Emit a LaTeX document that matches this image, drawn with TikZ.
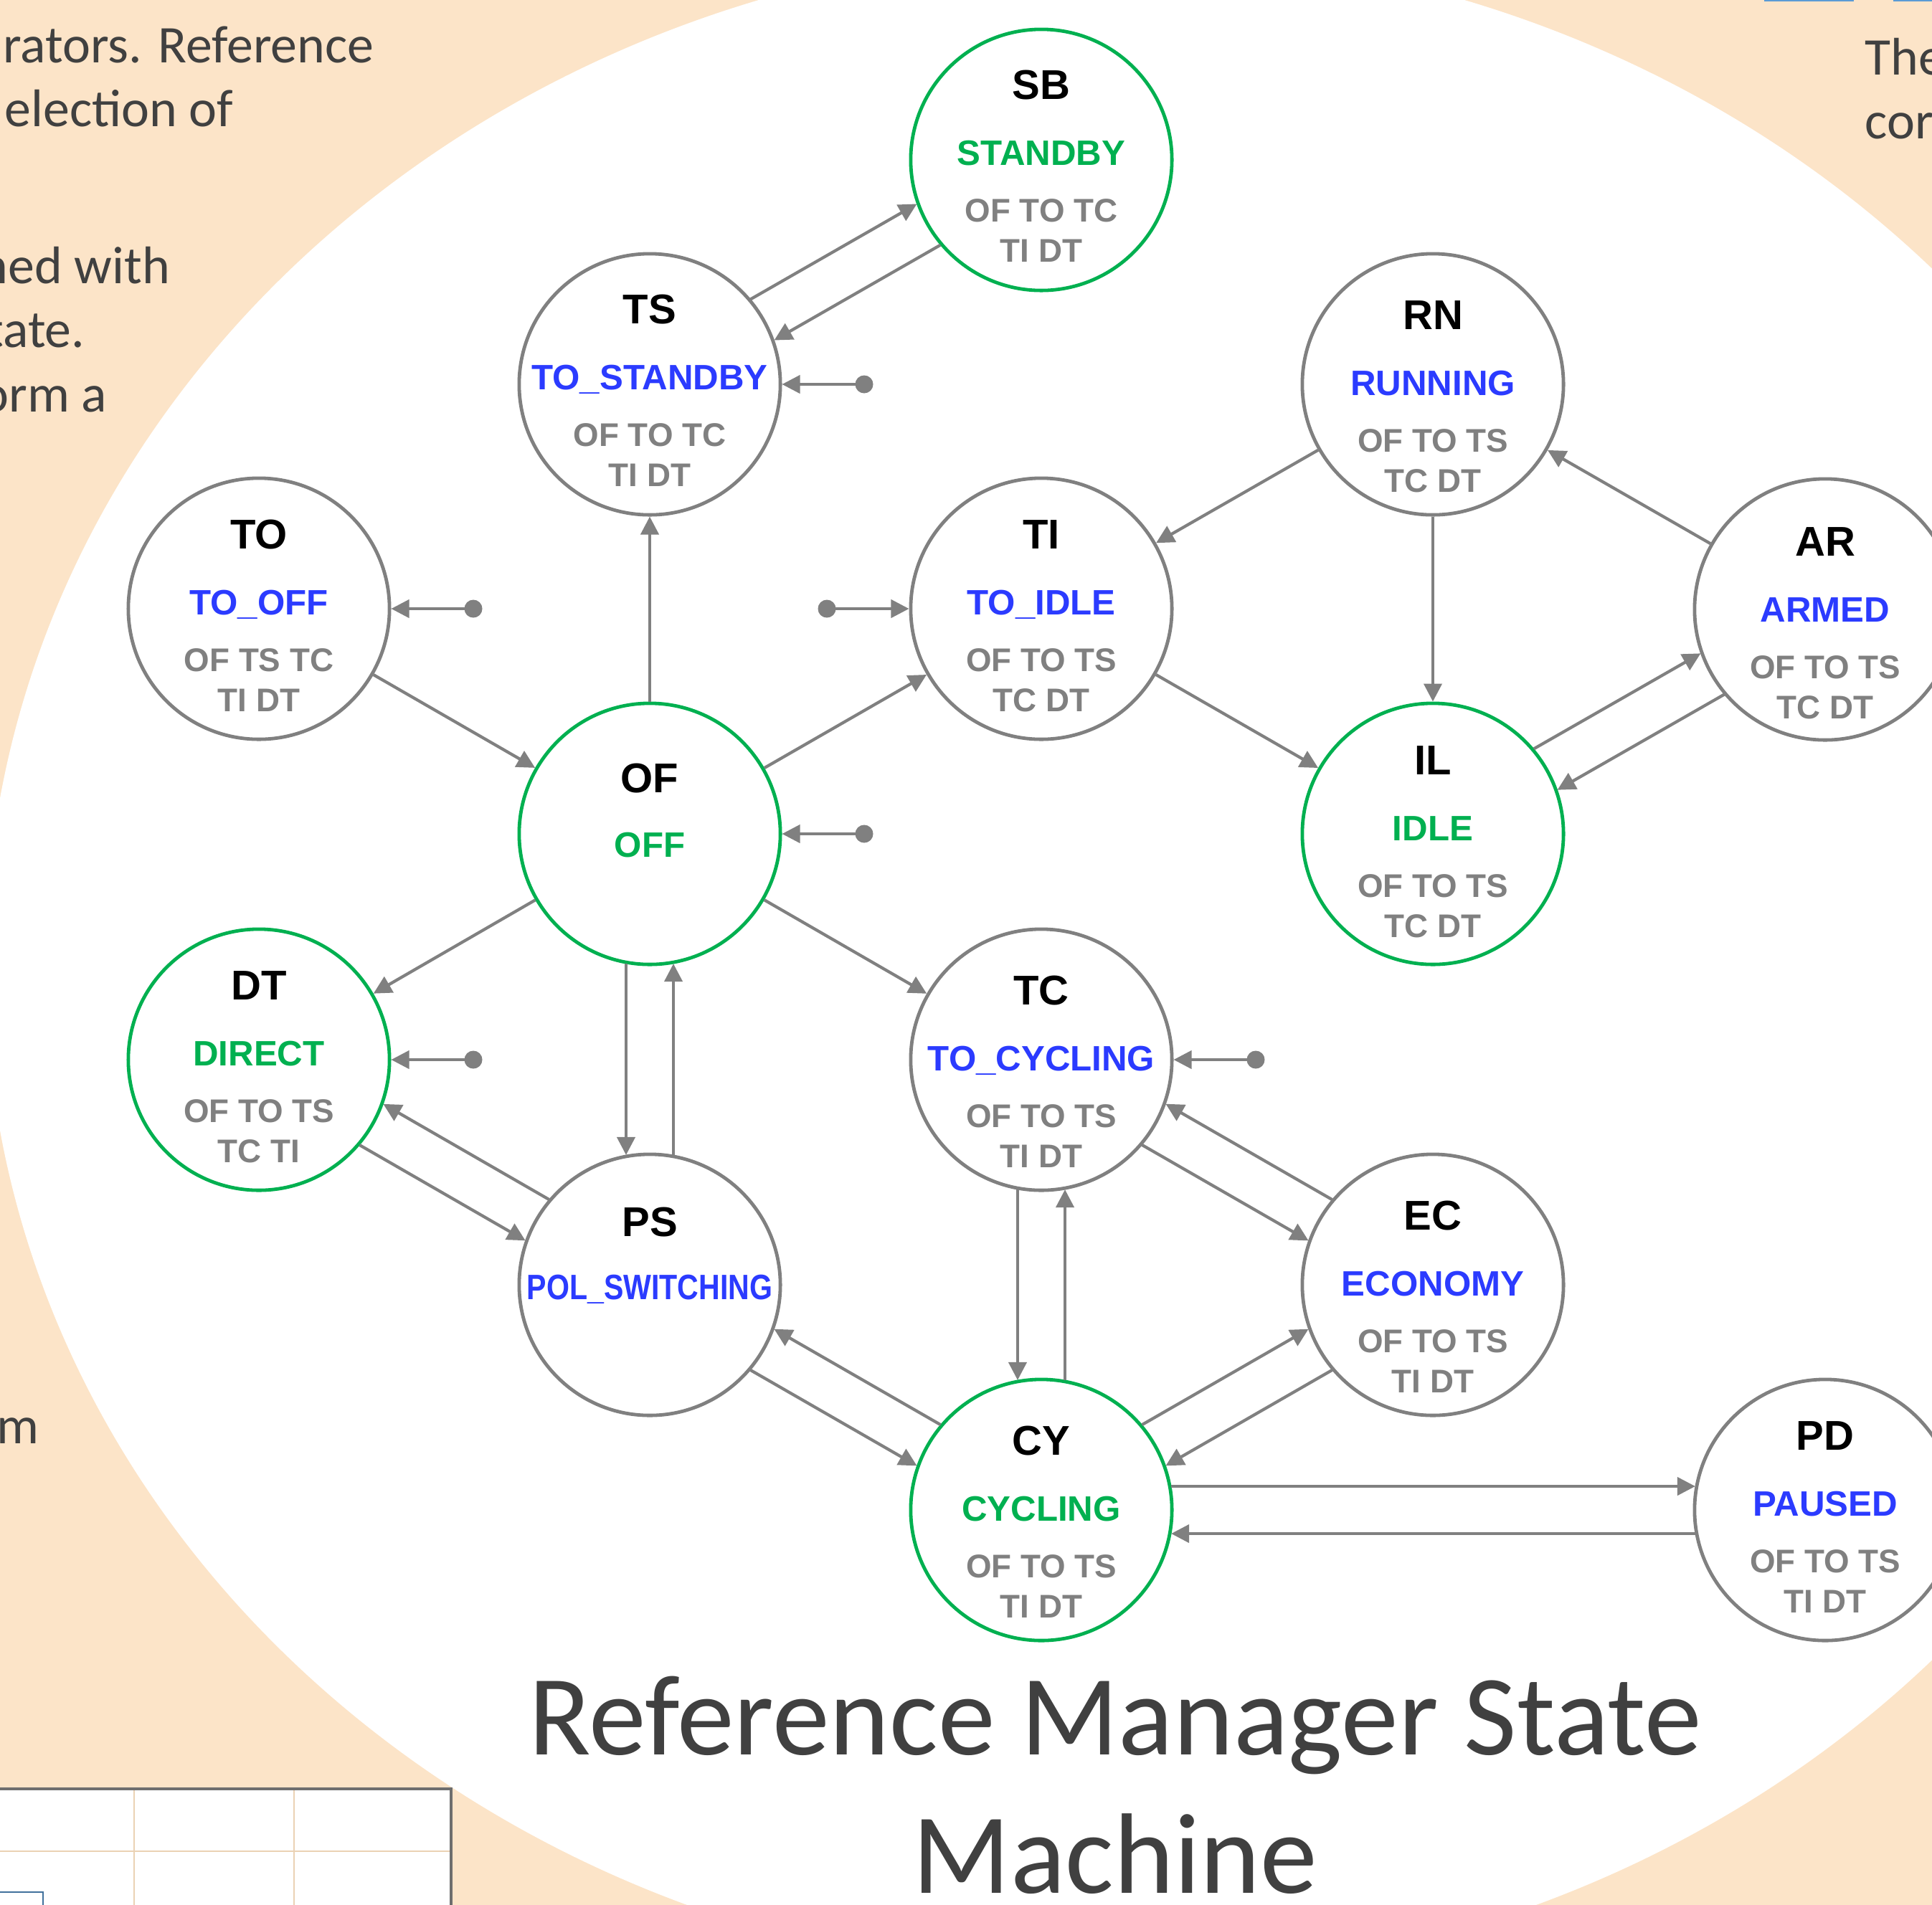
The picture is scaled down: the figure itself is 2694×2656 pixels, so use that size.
\documentclass[tikz,border=0pt]{standalone}
\usepackage{fontspec}
\setmainfont{Carlito}
\newfontfamily\nodefont{Liberation Sans}
\usetikzlibrary{arrows.meta,calc}
\definecolor{peach}{HTML}{FCE4C8}
\definecolor{txtgray}{HTML}{404040}
\definecolor{stgray}{HTML}{808080}
\definecolor{stgreen}{HTML}{00B050}
\definecolor{stblue}{HTML}{2B3BFF}
\definecolor{gridtan}{HTML}{EBD2B4}
\definecolor{tblborder}{HTML}{6E6E6E}
\definecolor{btnblue}{HTML}{5B9BD5}
\definecolor{boxblue}{HTML}{41719C}
\tikzset{
  state/.style={circle, draw=stgray, line width=0.048cm, fill=white, minimum size=3.64cm, inner sep=0pt},
  ringg/.style={draw=stgreen},
  ringb/.style={draw=stgray},
  lblg/.style={text=stgreen},
  lblb/.style={text=stblue},
  codetxt/.style={anchor=base, inner sep=0pt, text=black, font=\nodefont\bfseries\fontsize{16.5}{18}\selectfont},
  nametxt/.style={anchor=base, inner sep=0pt, font=\nodefont\bfseries\fontsize{14}{16}\selectfont},
  flagtxt/.style={anchor=base, inner sep=0pt, text=stgray, font=\nodefont\bfseries\fontsize{13}{15}\selectfont},
  arr/.style={draw=stgray, line width=0.042cm, -{Triangle[length=0.25cm,width=0.25cm]}},
  initdot/.style={circle, fill=stgray, minimum size=0.25cm, inner sep=0pt},
  sidetxt/.style={anchor=base east, inner sep=0pt, text=txtgray, font=\fontsize{21}{25}\selectfont},
  sidetxtl/.style={anchor=base west, inner sep=0pt, text=txtgray, font=\fontsize{21}{25}\selectfont},
  titletxt/.style={anchor=base, inner sep=0pt, text=txtgray, font=\fontsize{45.4}{50}\selectfont},
}
% #1 name, #2 x, #3 y, #4 shift, #5 kind g/b, #6 code, #7 label, #8 flags1, #9 flags2
\newcommand\mkstate[9]{%
  \node[state, ring#5] (#1) at (#2,#3) {};
  \node[codetxt] (#1-c) at ({#2},{#3+(#4)-80}) {#6};
  \node[nametxt, lbl#5] (#1-n) at ({#2},{#3+(#4)+12}) {#7};
  \node[flagtxt] (#1-f) at ({#2},{#3+(#4)+91}) {#8};
  \node[flagtxt] (#1-g) at ({#2},{#3+(#4)+147}) {#9};
}
% paired edge: #1 -> #2, side angles #3 (at start) and #4 (at end)
\newcommand\pe[4]{%
  \draw[arr] ($(#1)!1.81cm!(#2)!0.33cm!#3:(#2)$) -- ($(#2)!1.81cm!(#1)!0.33cm!#4:(#1)$);
}
\begin{document}
\begin{tikzpicture}[x=0.01cm, y=-0.01cm]
\useasboundingbox (0,0) rectangle (2694,2656);
\clip (0,0) rectangle (2694,2656);
\fill[peach] (-10,-10) rectangle (2704,2666);
\fill[white] (1550,1345) ellipse [x radius=15.7cm, y radius=14.15cm];

% side texts
\node[sidetxt] (s1) at (522,87) {rators. Reference};
\node[sidetxt] (s2) at (326,176) {election of};
\node[sidetxt] (s3) at (238,395) {ned with};
\node[sidetxt] (s4) at (119,484) {tate.};
\node[sidetxt] (s5) at (150,574) {orm a};
\node[sidetxt] (s6) at (55,2013) {m};
\node[sidetxtl] (s7) at (2600,104) {The};
\node[sidetxtl] (s8) at (2600,193) {cor};

% top-right button edges
\fill[btnblue] (2460,-10) rectangle (2585,2);
\fill[btnblue] (2640,-10) rectangle (2704,2);

% table bottom-left
\fill[white] (-10,2495) rectangle (629,2670);
\draw[gridtan, line width=0.02cm] (187,2497) -- (187,2670);
\draw[gridtan, line width=0.02cm] (410,2497) -- (410,2670);
\draw[gridtan, line width=0.02cm] (-10,2582) -- (627,2582);
\draw[tblborder, line width=0.04cm] (-10,2495) -- (629,2495) -- (629,2670);
\draw[boxblue, fill=white, line width=0.02cm] (-10,2639) rectangle (60,2670);

% states
\mkstate{sb}{1452}{223}{-5}{g}{SB}{STANDBY}{OF TO TC}{TI DT}
\mkstate{ts}{906}{536}{-5}{b}{TS}{TO\_STANDBY}{OF TO TC}{TI DT}
\mkstate{rn}{1998}{536}{3}{b}{RN}{RUNNING}{OF TO TS}{TC DT}
\mkstate{to}{361}{849}{-4}{b}{TO}{TO\_OFF}{OF TS TC}{TI DT}
\mkstate{ti}{1452}{849}{-4}{b}{TI}{TO\_IDLE}{OF TO TS}{TC DT}
\mkstate{ar}{2545}{850}{5}{b}{AR}{ARMED}{OF TO TS}{TC DT}
\mkstate{il}{1998}{1163}{-3}{g}{IL}{IDLE}{OF TO TS}{TC DT}
\mkstate{dt}{361}{1478}{-4}{g}{DT}{DIRECT}{OF TO TS}{TC TI}
\mkstate{tc}{1452}{1478}{3}{b}{TC}{TO\_CYCLING}{OF TO TS}{TI DT}
\mkstate{ec}{1998}{1792}{3}{b}{EC}{ECONOMY}{OF TO TS}{TI DT}
\mkstate{cy}{1452}{2106}{3}{g}{CY}{CYCLING}{OF TO TS}{TI DT}
\mkstate{pd}{2545}{2106}{-4}{b}{PD}{PAUSED}{OF TO TS}{TI DT}

\node[state, ringg] (of) at (906,1163) {};
\node[codetxt] (of-c) at (906,1105) {OF};
\node[nametxt, lblg] (of-n) at (906,1195) {OFF};
\node[state, ringb] (ps) at (906,1792) {};
\node[codetxt] (ps-c) at (906,1724) {PS};
\node[nametxt, lblb, xscale=0.835] (ps-n) at (906,1812) {POL\_SWITCHING};

% single edges
\draw[arr] (to) -- (of);
\draw[arr] (of) -- (ts);
\draw[arr] (of) -- (ti);
\draw[arr] (of) -- (dt);
\draw[arr] (of) -- (tc);
\draw[arr] (rn) -- (ti);
\draw[arr] (rn) -- (il);
\draw[arr] (ar) -- (rn);
\draw[arr] (ti) -- (il);

% paired edges
\pe{ts}{sb}{90}{-90}
\pe{sb}{ts}{90}{-90}
\pe{il}{ar}{90}{-90}
\pe{ar}{il}{90}{-90}
\pe{of}{ps}{-90}{90}
\pe{ps}{of}{-90}{90}
\pe{tc}{cy}{-90}{90}
\pe{cy}{tc}{-90}{90}
\pe{ps}{dt}{-90}{90}
\pe{dt}{ps}{-90}{90}
\pe{cy}{ps}{-90}{90}
\pe{ps}{cy}{-90}{90}
\pe{ec}{tc}{-90}{90}
\pe{tc}{ec}{-90}{90}
\pe{cy}{ec}{90}{-90}
\pe{ec}{cy}{90}{-90}
\pe{cy}{pd}{90}{-90}
\pe{pd}{cy}{90}{-90}

% initial transitions
\node[initdot] (ts-i) at (1205,536) {};
\node[initdot] (to-i) at (660,849) {};
\node[initdot] (ti-i) at (1153,849) {};
\node[initdot] (of-i) at (1205,1163) {};
\node[initdot] (dt-i) at (660,1478) {};
\node[initdot] (tc-i) at (1751,1478) {};
\draw[arr] (ts-i.center) -- (ts);
\draw[arr] (to-i.center) -- (to);
\draw[arr] (ti-i.center) -- (ti);
\draw[arr] (of-i.center) -- (of);
\draw[arr] (dt-i.center) -- (dt);
\draw[arr] (tc-i.center) -- (tc);

% title
\node[titletxt] (title1) at (1555,2447) {Reference Manager State};
\node[titletxt] (title2) at (1555,2640) {Machine};
\end{tikzpicture}
\end{document}
